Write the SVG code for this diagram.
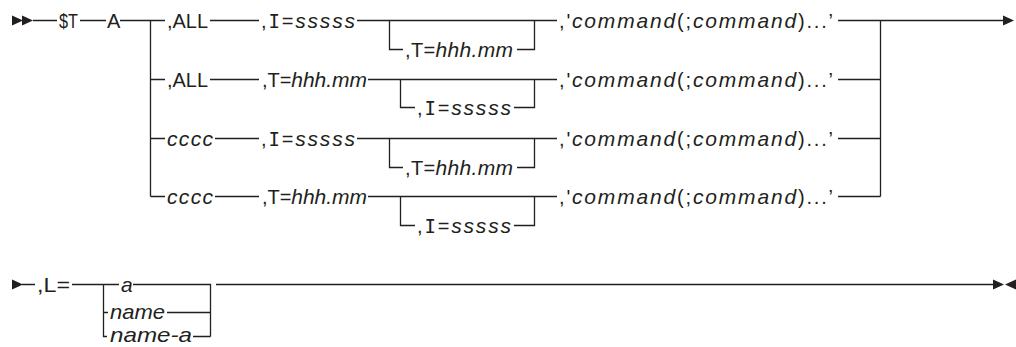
<svg xmlns="http://www.w3.org/2000/svg" width="1016" height="347" viewBox="0 0 1016 347">
<style>
.ln{stroke:#231f20;stroke-width:1.3;fill:none}
.t{font-family:"Liberation Sans",Arial,sans-serif;font-size:20px;fill:#231f20}
.i{font-style:italic;font-size:21px}
.m{font-family:"DejaVu Sans Mono",monospace;font-size:19px}
.ah{fill:#231f20}
</style>
<defs>
<path id="tri" d="M0,-5 L11,0 L0,5 Z"/>
<path id="tril" d="M0,-5 L-11,0 L0,5 Z"/>
</defs>
<g id="connectors">
<path class="ln" d="M33,20.5H57 M80,20.5H106 M120,20.5H165 M210,20.5H259 M357,20.5H557 M838,20.5H1003
M150.5,20.5V196.5 M150.5,79.5H165 M150.5,138.5H165 M150.5,196.5H165
M210,79.5H259 M368,79.5H557 M838,79.5H880.5
M215,138.5H259 M357,138.5H557 M838,138.5H880.5
M215,196.5H259 M368,196.5H557 M838,196.5H880.5
M880.5,20.5V196.5
M389.5,20.5V49.5H403 M517,49.5H534.5V20.5
M400.5,79.5V107.5H415 M514,107.5H534.5V79.5
M389.5,138.5V167.5H403 M517,167.5H534.5V138.5
M400.5,196.5V225.5H415 M514,225.5H534.5V196.5
M22,284.5H35 M72,284.5H119 M103.5,284.5V336.5H107 M103.5,312.5H108 M133,284.5H210.5V336.5 M167,312.5H210.5 M193,336.5H210.5 M216,284.5H993"/>
<use href="#tri" class="ah" x="12" y="20.5"/>
<use href="#tri" class="ah" x="22" y="20.5"/>
<use href="#tri" class="ah" x="1003" y="20.5"/>
<use href="#tri" class="ah" x="12" y="284.5"/>
<use href="#tri" class="ah" x="993" y="284.5"/>
<use href="#tril" class="ah" x="1016" y="284.5"/>
</g>
<g id="n-st"><text class="t" x="59" y="27.5" textLength="19" lengthAdjust="spacingAndGlyphs">$T</text></g>
<g id="n-a"><text class="t" x="107" y="27.5">A</text></g>
<g id="n-all1"><text class="t" x="167" y="27.5" textLength="41" lengthAdjust="spacingAndGlyphs">,ALL</text></g>
<g id="n-i1"><text class="t" x="261" y="27.5" textLength="94" lengthAdjust="spacing">,<tspan class="m">I</tspan>=<tspan class="i">sssss</tspan></text></g>
<g id="n-t1s"><text class="t" x="405" y="56.5" textLength="108" lengthAdjust="spacing">,T=<tspan class="i">hhh.mm</tspan></text></g>
<g id="n-cmd1"><text class="t" x="559" y="27.5" textLength="274" lengthAdjust="spacing">,'<tspan class="i">command</tspan>(;<tspan class="i">command</tspan>)...’</text></g>
<g id="n-all2"><text class="t" x="167" y="86.5" textLength="41" lengthAdjust="spacingAndGlyphs">,ALL</text></g>
<g id="n-t2"><text class="t" x="262" y="86.5" textLength="105" lengthAdjust="spacing">,T=<tspan class="i">hhh.mm</tspan></text></g>
<g id="n-i2s"><text class="t" x="417" y="114.5" textLength="94" lengthAdjust="spacing">,<tspan class="m">I</tspan>=<tspan class="i">sssss</tspan></text></g>
<g id="n-cmd2"><text class="t" x="559" y="86.5" textLength="274" lengthAdjust="spacing">,'<tspan class="i">command</tspan>(;<tspan class="i">command</tspan>)...’</text></g>
<g id="n-c3"><text class="t i" x="167" y="145.5" textLength="46" lengthAdjust="spacing">cccc</text></g>
<g id="n-i3"><text class="t" x="261" y="145.5" textLength="94" lengthAdjust="spacing">,<tspan class="m">I</tspan>=<tspan class="i">sssss</tspan></text></g>
<g id="n-t3s"><text class="t" x="405" y="174.5" textLength="108" lengthAdjust="spacing">,T=<tspan class="i">hhh.mm</tspan></text></g>
<g id="n-cmd3"><text class="t" x="559" y="145.5" textLength="274" lengthAdjust="spacing">,'<tspan class="i">command</tspan>(;<tspan class="i">command</tspan>)...’</text></g>
<g id="n-c4"><text class="t i" x="167" y="203.5" textLength="46" lengthAdjust="spacing">cccc</text></g>
<g id="n-t4"><text class="t" x="262" y="203.5" textLength="105" lengthAdjust="spacing">,T=<tspan class="i">hhh.mm</tspan></text></g>
<g id="n-i4s"><text class="t" x="417" y="232.5" textLength="94" lengthAdjust="spacing">,<tspan class="m">I</tspan>=<tspan class="i">sssss</tspan></text></g>
<g id="n-cmd4"><text class="t" x="559" y="203.5" textLength="274" lengthAdjust="spacing">,'<tspan class="i">command</tspan>(;<tspan class="i">command</tspan>)...’</text></g>
<g id="n-l"><text class="t" x="37" y="291.5" textLength="33" lengthAdjust="spacingAndGlyphs">,L=</text></g>
<g id="n-la"><text class="t i" x="121" y="291.5">a</text></g>
<g id="n-lname"><text class="t i" x="110" y="319" textLength="55" lengthAdjust="spacingAndGlyphs">name</text></g>
<g id="n-lnamea"><text class="t i" x="110" y="342" textLength="82" lengthAdjust="spacingAndGlyphs">name-a</text></g>
</svg>
